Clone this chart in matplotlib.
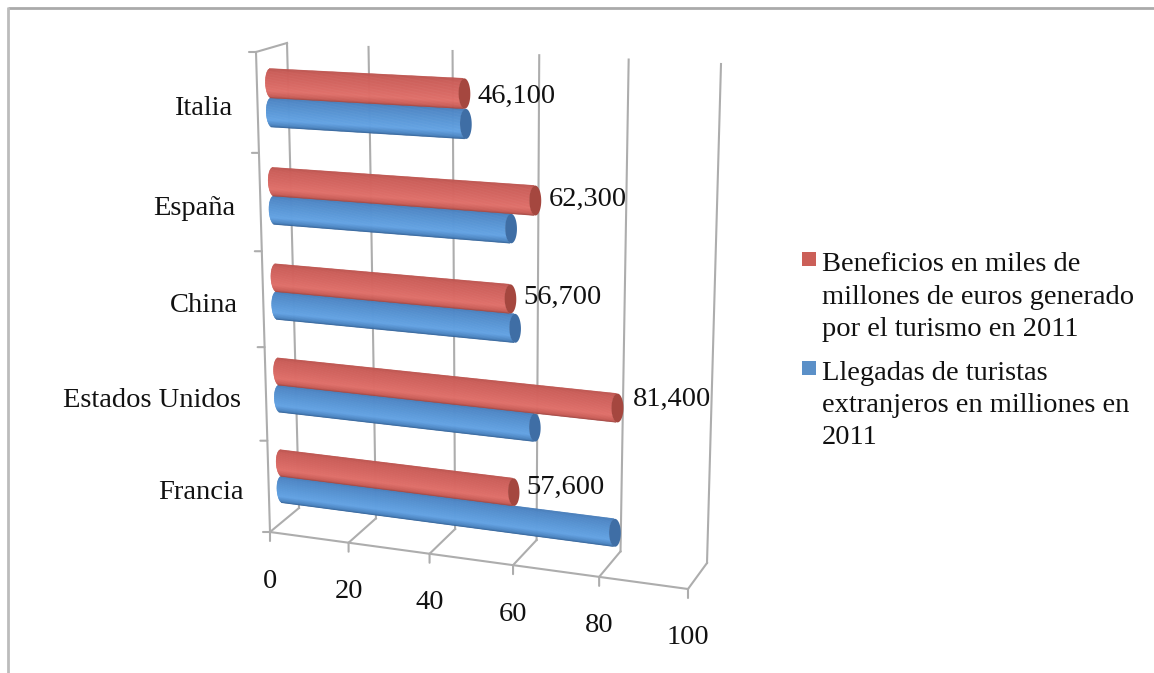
import numpy as np
import matplotlib
matplotlib.use("Agg")
import matplotlib.pyplot as plt
from matplotlib.collections import PolyCollection
from matplotlib.patches import Polygon, Rectangle
from matplotlib.transforms import Transform

categories = ["Francia", "Estados Unidos", "China", "España", "Italia"]
beneficios = [57.6, 81.4, 56.7, 62.3, 46.1]
llegadas = [81.3, 62.5, 57.8, 56.8, 46.4]
beneficios_labels = ["57,600", "81,400", "56,700", "62,300", "46,100"]
value_ticks = [0, 20, 40, 60, 80, 100]
legend_beneficios = "Beneficios en miles de\nmillones de euros generado\npor el turismo en 2011"
legend_llegadas = "Llegadas de turistas\nextranjeros en milliones en\n2011"

WIDTH, HEIGHT = 1154, 673
GREY = "#adadad"
FONT = "Liberation Serif"
VMAX = 100
CMAX = len(categories)

# camera of the 3D box: pixel position of (value, category) corners on the
# front and back planes, in the order (0,0), (VMAX,0), (VMAX,CMAX), (0,CMAX)
FRONT_PLANE = [(270, 532), (688, 589), (702, 72), (256, 52)]
BACK_PLANE = [(299, 508), (707, 563), (721, 64), (287, 43)]

BAR_DEPTH = 0.45
BAR_RADIUS = 0.147
CAP_WIDTH = 1.35

# pixel nudges of the value labels, same order as categories
LABEL_NUDGE = [(13, 5), (15, 9), (13, 1), (13, 1), (13, -3)]


def fit_homography(pixels):
    src = [(0, 0), (VMAX, 0), (VMAX, CMAX), (0, CMAX)]
    rows, rhs = [], []
    for (x, y), (u, v) in zip(src, pixels):
        rows.append([x, y, 1, 0, 0, 0, -u * x, -u * y])
        rows.append([0, 0, 0, x, y, 1, -v * x, -v * y])
        rhs += [u, v]
    return np.append(np.linalg.solve(np.array(rows, float), np.array(rhs, float)), 1).reshape(3, 3)


H_FRONT = fit_homography(FRONT_PLANE)
H_BACK = fit_homography(BACK_PLANE)


def apply_h(h, v, c):
    p = h @ np.vstack([v, c, np.ones_like(v)])
    return (p[:2] / p[2]).T


class BoxTransform(Transform):
    """(value, category) at a fixed depth, or (value, depth) along the floor."""

    input_dims = 2
    output_dims = 2
    is_separable = False

    def __init__(self, plane=None):
        super().__init__()
        self.plane = plane

    def transform_non_affine(self, values):
        values = np.asarray(values, float).reshape(-1, 2)
        v = values[:, 0]
        if self.plane is None:
            c, d = np.zeros_like(v), values[:, 1]
        else:
            c, d = values[:, 1], np.full_like(v, self.plane)
        front = apply_h(H_FRONT, v, c)
        back = apply_h(H_BACK, v, c)
        return front + (back - front) * d[:, None]


def draw_cylinder(ax, value, center, stops, cap_color, zorder):
    trans = BoxTransform(BAR_DEPTH) + ax.transData
    edges = np.linspace(-1, 1, 41)
    polys, colors = [], []
    for u0, u1 in zip(edges[:-1], edges[1:]):
        um = (u0 + u1) / 2
        bulge = CAP_WIDTH * np.sqrt(1 - um**2)
        c0 = center + BAR_RADIUS * u0
        c1 = center + BAR_RADIUS * u1
        polys.append([(-bulge, c0), (value - bulge, c0), (value - bulge, c1), (-bulge, c1)])
        t = (1 - um) / 2
        colors.append([np.interp(t, stops[0], [matplotlib.colors.to_rgb(s)[i] for s in stops[1]]) for i in range(3)])
    body = PolyCollection(polys, facecolors=colors, edgecolors=colors, linewidths=0.4,
                          transform=trans, zorder=zorder)
    ax.add_collection(body, autolim=False)
    angle = np.linspace(0, 2 * np.pi, 60)
    cap = np.column_stack([value + CAP_WIDTH * np.cos(angle), center + BAR_RADIUS * np.sin(angle)])
    ax.add_patch(Polygon(cap, closed=True, facecolor=cap_color, edgecolor="none",
                         transform=trans, zorder=zorder + 0.1))


RED_STOPS = ([0, 0.1, 0.45, 0.75, 0.93, 1],
             ["#bd5651", "#cb5e59", "#d66762", "#e0706a", "#c95c56", "#9c4540"])
BLUE_STOPS = ([0, 0.1, 0.45, 0.75, 0.93, 1],
              ["#4a7fbb", "#5088c7", "#5a98d7", "#64a3e4", "#4b84c0", "#325f94"])

fig = plt.figure(figsize=(WIDTH / 100, HEIGHT / 100), dpi=100, facecolor="white")
ax = fig.add_axes([0, 0, 1, 1])
ax.set_xlim(0, WIDTH)
ax.set_ylim(HEIGHT, 0)
ax.axis("off")

# page frame around the pasted chart
ax.plot([8, WIDTH], [8, 8], color="#aaaaaa", lw=2.0, solid_capstyle="butt", zorder=1)
ax.plot([8, 8], [7, HEIGHT], color="#bcbcbc", lw=2.0, solid_capstyle="butt", zorder=1)

# box lines
back = BoxTransform(1) + ax.transData
front = BoxTransform(0) + ax.transData
floor = BoxTransform() + ax.transData
line_style = dict(color=GREY, lw=1.5, zorder=2)
tick_arrow = dict(arrowstyle="-", color=GREY, lw=1.5, shrinkA=0, shrinkB=0)
for tick in value_ticks:
    ax.plot([tick, tick], [0, CMAX], transform=back, **line_style)
    ax.plot([tick, tick], [0, 1], transform=floor, **line_style)
    ax.annotate("", xy=(tick, 0), xycoords=front, xytext=(0, -9),
                textcoords="offset pixels", arrowprops=tick_arrow)
ax.plot([0, VMAX], [0, 0], transform=front, **line_style)
ax.plot([0, 0], [0, CMAX], transform=front, **line_style)
top_left = np.vstack([apply_h(H_FRONT, np.array([0.0]), np.array([float(CMAX)])),
                      apply_h(H_BACK, np.array([0.0]), np.array([float(CMAX)]))])
ax.plot(top_left[:, 0], top_left[:, 1], **line_style)
for i in range(CMAX + 1):
    ax.annotate("", xy=(0, i), xycoords=front, xytext=(-7, 0),
                textcoords="offset pixels", arrowprops=tick_arrow)

# cylinders, blue first because the red ones sit over them
for i in range(CMAX):
    draw_cylinder(ax, llegadas[i], i + 0.5 - BAR_RADIUS, BLUE_STOPS, "#3f6ea5", 3 + i)
    draw_cylinder(ax, beneficios[i], i + 0.5 + BAR_RADIUS, RED_STOPS, "#a5473f", 3.5 + i)

text_style = dict(family=FONT, fontsize=20.5, color="#111111", zorder=10)
bar_plane = BoxTransform(BAR_DEPTH) + ax.transData
for i, name in enumerate(categories):
    ax.annotate(name, xy=(0, i + 0.5), xycoords=front, xytext=(-25, -6),
                textcoords="offset pixels", ha="right", va="center", **text_style)
    ax.annotate(beneficios_labels[i], xy=(beneficios[i], i + 0.5 + BAR_RADIUS), xycoords=bar_plane,
                xytext=LABEL_NUDGE[i], textcoords="offset pixels", ha="left", va="center", **text_style)
for tick in value_ticks:
    ax.annotate(str(tick), xy=(tick, 0), xycoords=front, xytext=(0, -49),
                textcoords="offset pixels", ha="center", va="center", **text_style)

# legend
ax.add_patch(Rectangle((802, 252), 14, 14, facecolor="#cb5f58", edgecolor="none", zorder=5))
ax.add_patch(Rectangle((802, 361), 14, 14, facecolor="#5b90c8", edgecolor="none", zorder=5))
ax.text(822, 297, legend_beneficios, ha="left", va="center", linespacing=1.38, **text_style)
ax.text(822, 405.5, legend_llegadas, ha="left", va="center", linespacing=1.38, **text_style)

fig.savefig("out.png", dpi=100)
